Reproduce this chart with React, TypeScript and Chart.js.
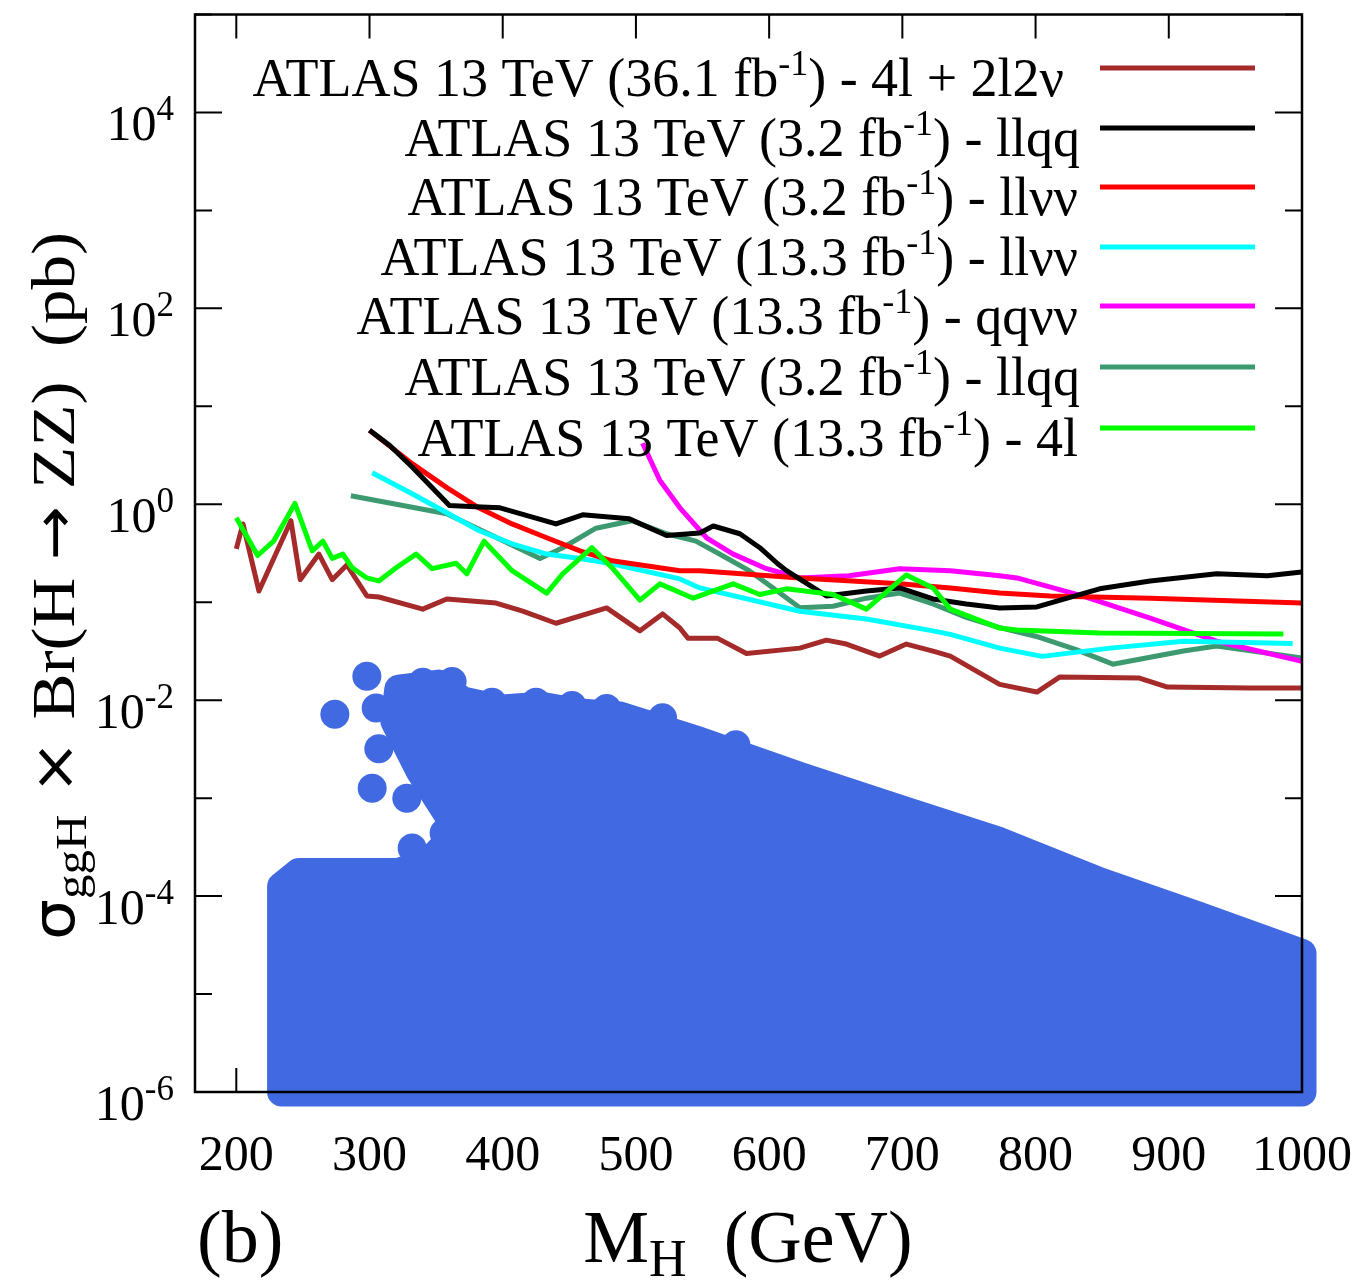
import React, { useEffect, useRef } from 'react';
import { Chart, registerables } from 'chart.js';

Chart.register(...registerables);

// ---------------- data ----------------
const X_TICKS = [200, 300, 400, 500, 600, 700, 800, 900, 1000];
const Y_DECADES = [-6, -5, -4, -3, -2, -1, 0, 1, 2, 3, 4, 5];
const Y_LABEL_EXPONENTS = [-6, -4, -2, 0, 2, 4];

// ATLAS 13 TeV (36.1 fb-1) - 4l + 2l2nu  (brown)
const brownM = [200, 205, 217, 241, 248, 262, 272, 283, 298, 307, 340, 358, 395, 415, 440, 478, 503, 520, 533, 539, 561, 583, 623, 643, 658, 683, 703, 723, 736, 773, 801, 818, 878, 899, 961, 1000];
const brownSigma = [0.35, 0.63, 0.13, 0.68, 0.17, 0.31, 0.17, 0.24, 0.116, 0.113, 0.085, 0.108, 0.098, 0.081, 0.061, 0.0875, 0.051, 0.076, 0.0545, 0.043, 0.043, 0.030, 0.034, 0.041, 0.0374, 0.0282, 0.0374, 0.0317, 0.0282, 0.0145, 0.0121, 0.0172, 0.0168, 0.0136, 0.0133, 0.0133];

// ATLAS 13 TeV (3.2 fb-1) - llqq (black)
const blackM = [300, 315, 332, 360, 375, 398, 440, 460, 495, 523, 548, 558, 578, 593, 606, 613, 643, 673, 698, 723, 748, 773, 801, 848, 886, 936, 974, 1000];
const blackSigma = [5.7, 4.0, 2.4, 0.97, 0.95, 0.92, 0.63, 0.78, 0.71, 0.48, 0.51, 0.60, 0.50, 0.36, 0.25, 0.21, 0.116, 0.13, 0.14, 0.108, 0.096, 0.0875, 0.0896, 0.137, 0.165, 0.195, 0.186, 0.204];

// ATLAS 13 TeV (3.2 fb-1) - llnunu (red)
const redM = [300, 332, 358, 382, 407, 433, 458, 482, 533, 548, 623, 698, 736, 773, 811, 886, 1000];
const redSigma = [5.7, 2.6, 1.48, 0.92, 0.63, 0.455, 0.335, 0.265, 0.21, 0.21, 0.177, 0.154, 0.14, 0.124, 0.116, 0.11, 0.098];

// ATLAS 13 TeV (13.3 fb-1) - llnunu (cyan)
const cyanM = [302, 332, 358, 382, 407, 433, 458, 482, 533, 548, 623, 673, 723, 736, 773, 805, 856, 911, 993];
const cyanSigma = [2.1, 1.28, 0.82, 0.54, 0.395, 0.31, 0.28, 0.247, 0.173, 0.14, 0.081, 0.0675, 0.051, 0.047, 0.034, 0.028, 0.034, 0.040, 0.038];

// ATLAS 13 TeV (13.3 fb-1) - qqnunu (magenta)
const magentaM = [505, 518, 533, 553, 573, 598, 623, 660, 698, 736, 773, 786, 835, 886, 936, 1000];
const magentaSigma = [4.2, 1.75, 0.92, 0.455, 0.31, 0.22, 0.177, 0.186, 0.22, 0.21, 0.186, 0.177, 0.116, 0.069, 0.040, 0.025];

// ATLAS 13 TeV (3.2 fb-1) - llqq (sea green)
const seaM = [286, 358, 428, 445, 470, 497, 523, 545, 561, 585, 603, 623, 648, 673, 698, 723, 748, 773, 800, 830, 858, 911, 936, 1000];
const seaSigma = [1.22, 0.80, 0.28, 0.36, 0.57, 0.68, 0.50, 0.42, 0.32, 0.21, 0.14, 0.088, 0.091, 0.11, 0.124, 0.096, 0.07, 0.055, 0.045, 0.033, 0.0233, 0.0318, 0.0357, 0.0269];

// ATLAS 13 TeV (13.3 fb-1) - 4l (green)
const greenM = [200, 216, 228, 244, 257, 265, 272, 280, 287, 298, 307, 320, 335, 347, 365, 373, 386, 407, 433, 445, 467, 482, 503, 518, 543, 573, 593, 613, 648, 673, 703, 723, 736, 773, 786, 848, 986];
const greenSigma = [0.73, 0.30, 0.42, 1.02, 0.335, 0.42, 0.28, 0.31, 0.225, 0.177, 0.165, 0.225, 0.31, 0.22, 0.25, 0.195, 0.42, 0.21, 0.124, 0.195, 0.36, 0.225, 0.105, 0.154, 0.11, 0.154, 0.12, 0.137, 0.12, 0.085, 0.19, 0.14, 0.085, 0.0545, 0.052, 0.0485, 0.0474];

// scan points (dense cloud): outline of the cloud of point centres
const cloudM = [234, 234, 247, 322, 345, 367, 338, 319, 322, 352, 370, 398, 428, 458, 488, 548, 623, 698, 773, 848, 923, 1000, 1000, 234];
const cloudSigma = [1e-6, 1.25e-4, 1.74e-4, 1.74e-4, 2.25e-4, 4.6e-4, 1.9e-3, 6.1e-3, 0.013, 0.0146, 0.0098, 0.0081, 0.0087, 0.0074, 0.0069, 0.0038, 0.00167, 7.7e-4, 3.6e-4, 1.4e-4, 6.2e-5, 2.6e-5, 1e-6, 1e-6];
// individual scan points on the edge of the cloud
const isoM = [298, 274, 305, 307, 302, 328, 356, 332, 340, 362, 392, 425, 452, 478, 520, 575];
const isoSigma = [0.0176, 0.0072, 0.0083, 0.0032, 0.00126, 0.001, 4.4e-4, 3.1e-4, 0.0152, 0.0155, 0.0095, 0.0095, 0.0088, 0.0082, 0.0066, 0.0035];

const LEGEND_LUMI = ['36.1', '3.2', '3.2', '13.3', '13.3', '3.2', '13.3'];
const LEGEND_CHANNEL = ['4l + 2l2\u03bd', 'llqq', 'll\u03bd\u03bd', 'll\u03bd\u03bd', 'qq\u03bd\u03bd', 'llqq', '4l'];
const LEGEND_COLORS = ['#a52a2a', '#000000', '#ff0000', '#00ffff', '#ff00ff', '#3d9970', '#00ff00'];

const BLUE = '#4169e1';
const SERIF = '"Liberation Serif", "Times New Roman", serif';
const SANS = '"DejaVu Sans", sans-serif';

type Part = { text: string; size: number; dy?: number; family?: string };

function measureRich(ctx: CanvasRenderingContext2D, parts: Part[]) {
  const widths: number[] = [];
  let total = 0;
  for (const p of parts) {
    ctx.font = `${p.size}px ${p.family || SERIF}`;
    const w = ctx.measureText(p.text).width;
    widths.push(w);
    total += w;
  }
  return { widths, total };
}

function drawRich(ctx: CanvasRenderingContext2D, parts: Part[], x: number, y: number, align: 'left' | 'right' | 'center') {
  const { widths, total } = measureRich(ctx, parts);
  let cx = align === 'right' ? x - total : align === 'center' ? x - total / 2 : x;
  ctx.textAlign = 'left';
  ctx.textBaseline = 'alphabetic';
  parts.forEach((p, i) => {
    ctx.font = `${p.size}px ${p.family || SERIF}`;
    ctx.fillText(p.text, cx, y + (p.dy || 0));
    cx += widths[i];
  });
}

const pts = (xs: number[], ys: number[]) => xs.map((x, i) => ({ x, y: ys[i] }));

const decorPlugin = {
  id: 'decor',
  beforeDatasetsDraw(chart: any) {
    const { ctx, chartArea: a, scales } = chart;
    ctx.save();
    ctx.strokeStyle = '#000';
    ctx.lineWidth = 2;
    ctx.beginPath();
    for (const v of X_TICKS) {
      const px = scales.x.getPixelForValue(v);
      ctx.moveTo(px, a.bottom);
      ctx.lineTo(px, a.bottom - 24);
      ctx.moveTo(px, a.top);
      ctx.lineTo(px, a.top + 24);
    }
    for (const d of Y_DECADES) {
      const py = scales.y.getPixelForValue(Math.pow(10, d));
      const len = d % 2 === 0 ? 27 : 17;
      ctx.moveTo(a.left, py);
      ctx.lineTo(a.left + len, py);
      ctx.moveTo(a.right, py);
      ctx.lineTo(a.right - len, py);
    }
    ctx.stroke();
    ctx.restore();
  },
  afterDatasetsDraw(chart: any) {
    const { ctx, chartArea: a } = chart;
    ctx.save();
    ctx.strokeStyle = '#000';
    ctx.lineWidth = 2.5;
    ctx.strokeRect(a.left, a.top, a.right - a.left, a.bottom - a.top);
    ctx.restore();
  },
  afterDraw(chart: any) {
    const { ctx, scales } = chart;
    ctx.save();
    ctx.fillStyle = '#000';
    // legend
    const rowY = [68, 128, 187, 247, 306, 367, 428];
    const rowRight = [1064, 1080, 1078, 1078, 1078, 1080, 1078];
    LEGEND_LUMI.forEach((lumi, i) => {
      const y = rowY[i];
      ctx.fillStyle = '#000';
      drawRich(ctx, [
        { text: `ATLAS 13 TeV (${lumi} fb`, size: 54 },
        { text: '-1', size: 36, dy: -21 },
        { text: `) - ${LEGEND_CHANNEL[i]}`, size: 54 },
      ], rowRight[i], y + 28, 'right');
      ctx.strokeStyle = LEGEND_COLORS[i];
      ctx.lineWidth = 5;
      ctx.beginPath();
      ctx.moveTo(1100, y);
      ctx.lineTo(1255, y);
      ctx.stroke();
    });
    ctx.fillStyle = '#000';
    // y tick labels
    for (const e of Y_LABEL_EXPONENTS) {
      const py = scales.y.getPixelForValue(Math.pow(10, e));
      drawRich(ctx, [
        { text: '10', size: 50 },
        { text: e < 0 ? `-${-e}` : `${e}`, size: 35, dy: -20 },
      ], 174, py + 28, 'right');
    }
    // x tick labels
    for (const v of X_TICKS) {
      const px = scales.x.getPixelForValue(v);
      drawRich(ctx, [{ text: String(v), size: 50 }], px, 1170, 'center');
    }
    // x title
    drawRich(ctx, [
      { text: 'M', size: 74 },
      { text: 'H', size: 52, dy: 14 },
      { text: '  (GeV)', size: 74 },
    ], 748, 1262, 'center');
    drawRich(ctx, [{ text: '(b)', size: 74 }], 197, 1262, 'left');
    // y title (rotated)
    const yParts: Part[] = [
      { text: '\u03c3', size: 58, family: SANS },
      { text: 'ggH', size: 44, dy: 12 },
      { text: ' \u00d7 ', size: 58, family: SANS },
      { text: 'Br(H ', size: 62 },
      { text: '\u2192', size: 58, family: SANS },
      { text: ' ZZ)  (pb)', size: 62 },
    ];
    const { total } = measureRich(ctx, yParts);
    const stretch = 708 / total;
    ctx.save();
    ctx.translate(74, 586);
    ctx.rotate(-Math.PI / 2);
    ctx.scale(stretch, 1);
    drawRich(ctx, yParts, 0, 0, 'center');
    ctx.restore();
    ctx.restore();
  },
};

export default function App() {
  const ref = useRef<HTMLCanvasElement | null>(null);
  useEffect(() => {
    document.body.style.margin = '0';
    const canvas = ref.current;
    if (!canvas) return;
    const line = (label: string, xs: number[], ys: number[], color: string, order: number) => ({
      label,
      data: pts(xs, ys),
      borderColor: color,
      backgroundColor: color,
      borderWidth: 5,
      pointRadius: 0,
      tension: 0,
      fill: false,
      borderJoinStyle: 'round',
      order,
    });
    const chart = new Chart(canvas, {
      type: 'line',
      data: {
        datasets: [
          line('36.1 4l+2l2nu', brownM, brownSigma, LEGEND_COLORS[0], 1),
          line('3.2 llqq', blackM, blackSigma, LEGEND_COLORS[1], 2),
          line('3.2 llnunu', redM, redSigma, LEGEND_COLORS[2], 3),
          line('13.3 llnunu', cyanM, cyanSigma, LEGEND_COLORS[3], 4),
          line('13.3 qqnunu', magentaM, magentaSigma, LEGEND_COLORS[4], 5),
          line('3.2 llqq b', seaM, seaSigma, LEGEND_COLORS[5], 6),
          line('13.3 4l', greenM, greenSigma, LEGEND_COLORS[6], 0),
          {
            label: 'scan points',
            data: pts(isoM, isoSigma),
            showLine: false,
            pointRadius: 14.5,
            pointBackgroundColor: BLUE,
            pointBorderWidth: 0,
            borderWidth: 0,
            clip: false,
            order: 50,
          },
          {
            label: 'scan cloud',
            data: pts(cloudM, cloudSigma),
            borderColor: BLUE,
            backgroundColor: BLUE,
            borderWidth: 29,
            borderJoinStyle: 'round',
            borderCapStyle: 'round',
            pointRadius: 0,
            tension: 0,
            fill: 'shape',
            clip: false,
            order: 100,
          },
        ] as any,
      },
      options: {
        animation: false,
        responsive: false,
        devicePixelRatio: 1,
        events: [],
        layout: { padding: { left: 195, right: 62, top: 14, bottom: 194 } },
        plugins: {
          legend: { display: false },
          tooltip: { enabled: false },
          title: { display: false },
        },
        scales: {
          x: { type: 'linear', min: 169, max: 1000, display: false },
          y: { type: 'logarithmic', min: 1e-6, max: 1e5, display: false },
        },
      } as any,
      plugins: [decorPlugin],
    });
    return () => chart.destroy();
  }, []);
  return <canvas ref={ref} width={1364} height={1286} style={{ display: 'block' }} />;
}
